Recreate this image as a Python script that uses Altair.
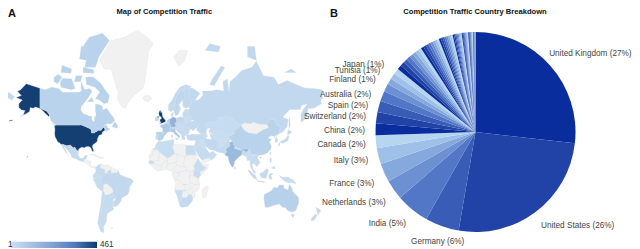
import altair as alt
import pandas as pd

# ---------- pie data ----------
pie_names = ["United Kingdom", "United States", "Germany", "India", "Netherlands", "France", "Italy", "Canada",
             "China", "Switzerland", "Spain", "Australia", "Finland", "Tunisia", "Japan", "Next"]
pie_share = [26.8, 25.9, 5.5, 5.4, 3.2, 3.0, 2.6, 2.1, 1.9, 1.8, 1.8, 1.7, 1.25, 1.0, 1.0, 0.9]
pie_rest = [0.72, 0.7, 0.68, 0.64, 0.6, 0.58, 0.55, 0.5,
            0.46, 0.44, 0.42, 0.4, 0.39, 0.38, 0.36, 0.35,
            0.32, 0.31, 0.3, 0.29, 0.28, 0.27, 0.26, 0.25,
            0.22, 0.21, 0.2, 0.19, 0.18, 0.17, 0.16, 0.15,
            0.15, 0.14, 0.14, 0.13, 0.13, 0.12, 0.12, 0.11,
            0.12, 0.11, 0.1, 0.1, 0.09, 0.09, 0.08, 0.08,
            0.07, 0.07, 0.06, 0.06, 0.05, 0.05, 0.03, 0.02]
pie_palette = ["#0a2d9e", "#2143a8", "#395cb7", "#5177c6", "#6c90d2", "#86a9dd", "#9fc0e8", "#b5d5f0"]

# label text: name, percent shown, placement (align, x, y)
label_pct = {"United Kingdom": 27, "United States": 26, "Germany": 6, "India": 5, "Netherlands": 3, "France": 3,
             "Italy": 3, "Canada": 2, "China": 2, "Switzerland": 2, "Spain": 2, "Australia": 2, "Finland": 1,
             "Tunisia": 1, "Japan": 1}
label_place = {"United Kingdom": ("right", 623.5, 46), "United States": ("left", 533, 218), "Germany": ("right", 456.3, 233.5),
               "India": ("right", 398, 215.5), "Netherlands": ("right", 377.7, 195), "France": ("right", 366.3, 176),
               "Italy": ("right", 360.3, 153), "Canada": ("right", 357.7, 137), "China": ("right", 357, 122.5),
               "Switzerland": ("right", 358, 109), "Spain": ("right", 360.3, 97.5), "Australia": ("right", 363.3, 87),
               "Finland": ("right", 367.7, 72), "Tunisia": ("right", 372.3, 63), "Japan": ("right", 376.3, 57)}

# ---------- map data: traffic per country ----------
traffic = {"United States": 444, "United Kingdom": 461, "Germany": 102, "India": 85, "Netherlands": 51, "France": 51,
           "Italy": 51, "Canada": 30, "China": 30, "Switzerland": 30, "Spain": 34, "Australia": 34, "Finland": 17,
           "Tunisia": 17, "Japan": 17, "Russia": 18, "Brazil": 18, "Mexico": 14, "Sweden": 20, "Norway": 16,
           "Poland": 18, "Ireland": 18, "Belgium": 22, "Austria": 18, "Portugal": 14, "Denmark": 14, "Greece": 12,
           "Turkey": 14, "Iran": 18, "Pakistan": 14, "Saudi Arabia": 12, "Egypt": 12, "Algeria": 10, "Morocco": 10,
           "Kenya": 10, "Ethiopia": 8, "South Africa": 14, "Namibia": 8, "Senegal": 8, "Argentina": 12, "Chile": 12,
           "Colombia": 12, "Peru": 10, "Ecuador": 10, "Uruguay": 8, "Paraguay": 8, "New Zealand": 16, "Indonesia": 14,
           "Malaysia": 14, "Thailand": 10, "Vietnam": 12, "Philippines": 10, "South Korea": 12, "Taiwan": 10,
           "Kazakhstan": 10, "Ukraine": 14, "Romania": 14, "Hungary": 14, "Czechia": 16, "Belarus": 8, "Baltics": 12,
           "Balkans": 12, "Bulgaria": 10, "Iraq": 6, "Levant": 10, "Oman": 6, "Central Asia": 8, "Caucasus": 8,
           "Afghanistan": 6, "Nepal": 6, "Bangladesh": 10, "Sri Lanka": 8, "Myanmar": 6, "Papua": 6}

shapes = {
 "United States": [
  [[-124.7,48.4],[-123,49],[-115,49],[-105,49],[-95.2,49],[-95,49.4],[-89.5,48],[-84.5,46.5],[-82.5,45.3],[-82.5,42.9],[-79,42.8],[-79,43.3],[-76.5,44],[-75,45],[-71.5,45],[-69.2,47.4],[-67.8,47],[-67,45],[-70,43.7],[-70.5,41.7],[-74,40.6],[-75.5,38],[-76,35.2],[-78,33.9],[-81,32],[-81.4,30],[-80,26.8],[-80.5,25.2],[-81.8,26],[-82.8,28.5],[-84.2,30],[-86,30.4],[-89,30.3],[-90,29.2],[-93.8,29.7],[-97,28],[-97.2,26],[-99.2,26.5],[-101.4,29.8],[-103,29],[-104.8,30.6],[-106.5,31.8],[-108.2,31.4],[-111,31.3],[-114.8,32.5],[-117.1,32.5],[-118.5,34],[-120.6,34.6],[-122,36.8],[-123.8,39.5],[-124.3,42],[-124,46.2]],
  [[-141,69.6],[-148,70.4],[-156.5,71.3],[-163,69],[-166.5,68.3],[-162,66.5],[-168,65.6],[-161,64.4],[-165,62.5],[-165,60.5],[-162,59],[-158,58.7],[-160,56],[-164,54.7],[-158,56.5],[-153,58],[-152,60.5],[-149,60],[-146,60.7],[-140,59.7],[-137,58.2],[-135,57],[-131,55],[-130,56],[-133.5,58.5],[-137,59.2],[-141,60.3],[-141,65]],
  [[-156,20.2],[-155,19.2],[-155,20],[-155.8,20.4]],
  [[-176,51.8],[-172,52.3],[-172,52.8],[-176,52.4]]],
 "Canada": [
  [[-141,69.6],[-135,69],[-128,70],[-120,69.5],[-115,68],[-108,68],[-96,68],[-94,68.5],[-94.5,72],[-90,69],[-85,69.5],[-81.5,68.5],[-87,65],[-94,61],[-94.7,59],[-92,57],[-85,55.3],[-82,55],[-82,53],[-80,51.3],[-79,52],[-79,54.5],[-77,56],[-78,58.5],[-78,62.4],[-73,62],[-70,61],[-69.5,59],[-65,60],[-62,57.5],[-57,54],[-56,52],[-60,50],[-65,50],[-70,47.5],[-65,49],[-64.5,47],[-61,46],[-66,44],[-67,45],[-67.8,47],[-69.2,47.4],[-71.5,45],[-75,45],[-76.5,44],[-79,43.3],[-79,42.8],[-82.5,42.9],[-82.5,45.3],[-84.5,46.5],[-89.5,48],[-95,49.4],[-95.2,49],[-105,49],[-115,49],[-123,49],[-125,50],[-128,52],[-130,55],[-130,56],[-133.5,58.5],[-137,59.2],[-141,60.3],[-141,65]],
  [[-62,66.5],[-64,63],[-68,62.5],[-74,64.5],[-78,65],[-73,68],[-78,70],[-88,71],[-89,73.5],[-81,73.7],[-72,71.5],[-67,69]],
  [[-117,70],[-105,69],[-101,69.5],[-105,73],[-115,73.2],[-118,72]],
  [[-125,72],[-121,71.3],[-116,73.5],[-120,74.5],[-125,73.5]],
  [[-90,76.5],[-78,76.5],[-74,79],[-62,82],[-70,83.1],[-85,82.5],[-92,81],[-88,78.5]],
  [[-92,75],[-80,74.7],[-80,75.8],[-92,76.5]],
  [[-117,75],[-106,74.8],[-105,76],[-116,77]],
  [[-96,78.5],[-88,78.2],[-87,80.2],[-94,81.2]],
  [[-102,72],[-95,72],[-93,74],[-100,74]],
  [[-87,63.5],[-80,63.5],[-82,65.7]],
  [[-59,47.7],[-53,46.7],[-53,49],[-56,51.5]],
  [[-128.3,50.5],[-123.5,48.4],[-125,48.8]]],
 "Mexico": [[[-117.1,32.5],[-114.8,32.5],[-111,31.3],[-108.2,31.4],[-106.5,31.8],[-104.8,30.6],[-103,29],[-101.4,29.8],[-99.2,26.5],[-97.2,26],[-97.8,22.5],[-95.8,18.8],[-94,18.2],[-91,18.8],[-90.5,21],[-87,21.5],[-88,18.5],[-90,17.8],[-92,14.6],[-96,15.8],[-105,19.5],[-106,23],[-109.5,26.5],[-112.7,30],[-114.7,31.6],[-112,27],[-109.5,23],[-112,24.8],[-115,29.5]]],
 "Colombia": [[[-77.3,8.6],[-75,11],[-72,12.2],[-72.5,7.5],[-67.5,6],[-67,1.5],[-70,-0.5],[-70,-4.2],[-75,0],[-78.8,1.4],[-77.3,4],[-78,7.5]]],
 "Ecuador": [[[-78.8,1.4],[-75,0],[-75.5,-2],[-78.5,-4.8],[-81,-2.5],[-80,0.5]]],
 "Peru": [[[-81,-4.5],[-78.5,-4.8],[-75.5,-2],[-75,0],[-70,-4.2],[-73,-9],[-69,-11],[-69,-16],[-70.4,-18.4],[-76,-14],[-79,-8]]],
 "Brazil": [[[-60,1.5],[-54,2.3],[-51.7,4],[-50,0],[-44,-2.5],[-37,-4.8],[-34.8,-7.5],[-39,-13.5],[-39.5,-18],[-41,-22],[-48,-25.5],[-49,-29],[-53.4,-33.7],[-57.5,-30],[-54.5,-25.6],[-55,-24],[-58,-22],[-58,-20],[-58,-16.3],[-60.5,-13.7],[-65.3,-10],[-69,-11],[-73,-9],[-70,-4.2],[-70,-0.5],[-67,1.5],[-64,1.5],[-64,4],[-60.7,5.2]]],
 "Chile": [[[-70.4,-18.4],[-69,-18],[-67,-23],[-70,-33],[-71.5,-40],[-72,-50],[-68.5,-52.5],[-68.5,-55],[-72,-54],[-75.5,-48],[-73.5,-40],[-71.5,-30]]],
 "Argentina": [[[-67,-23],[-62.5,-22],[-58,-27],[-57.5,-30],[-58.5,-34],[-57,-36.5],[-62,-39],[-65,-41],[-65.5,-47],[-69,-51],[-68.5,-52.5],[-72,-50],[-71.5,-40],[-70,-33]]],
 "Paraguay": [[[-62.5,-22],[-58,-20],[-58,-22],[-55,-24],[-54.5,-25.6],[-58,-27]]],
 "Uruguay": [[[-58.5,-34],[-57.5,-30],[-53.4,-33.7]]],
 "United Kingdom": [
  [[-5.5,50],[-1,50.7],[1.4,51.2],[1.7,52.7],[0,53.5],[-1.5,55],[-2,56],[-2,57.6],[-4,57.7],[-3,58.6],[-5,58.6],[-6,57],[-5,55],[-3.2,54.9],[-3,53.4],[-4.5,53.2],[-4.5,52],[-5.2,51.7],[-3,51.3]],
  [[-8,54.4],[-5.6,54.5],[-6.2,55.2],[-7.5,55.2]]],
 "Ireland": [[[-10,52],[-6.3,52.2],[-6,53.9],[-8,54.4],[-7.5,55.2],[-10,54.2]]],
 "France": [[[-1.7,43.4],[3,42.5],[4,43.5],[7.5,43.8],[7,45.9],[6,46.3],[7.5,47.6],[8.2,49],[6,49.5],[4,50],[2.5,51],[0,49.5],[-1.5,49.6],[-4.7,48.5],[-1.2,46]]],
 "Spain": [[[-9.2,43.2],[-7,43.7],[-1.7,43.4],[3,42.5],[0,40],[-0.5,38.5],[-2,36.8],[-5.5,36],[-7.3,37.2],[-7,39.5],[-6.5,42],[-8.8,42]]],
 "Portugal": [[[-8.8,42],[-6.5,42],[-7,39.5],[-7.3,37.2],[-9,37],[-9.5,38.8]]],
 "Germany": [[[6,51],[7,53.5],[9,54],[9.5,54.8],[14,54],[14.7,51],[12.2,50.3],[13.7,48.7],[13,47.5],[7.5,47.6],[8.2,49],[6,49.5]]],
 "Netherlands": [[[3.4,51.4],[4.7,53],[7,53.5],[6,51]]],
 "Belgium": [[[2.5,51],[3.4,51.4],[6,51],[6,49.5],[4,50]]],
 "Switzerland": [[[6,46.3],[7,45.9],[10.4,46.5],[9.5,47.5],[7.5,47.6]]],
 "Italy": [
  [[7,45.9],[7.5,43.8],[10.3,43.5],[12.5,41.5],[15.5,40],[16,38],[17,39],[18.4,40],[16,41.7],[13.5,43.7],[12.3,45.3],[13.7,45.7],[12.2,47],[10.4,46.5]],
  [[12.5,38],[15.5,38.2],[15,36.7]],[[8.2,41],[9.7,41],[9.5,39],[8.5,39]]],
 "Austria": [[[9.5,47.5],[10.4,46.5],[12.2,47],[13.7,46.5],[16.5,46.9],[17,48],[15,49],[13.7,48.7],[13,47.5]]],
 "Poland": [[[14,54],[18.5,54.8],[23,54.3],[24,51],[22.7,49.2],[19,49.4],[14.7,51]]],
 "Czechia": [[[12.2,50.3],[14.7,51],[19,49.4],[22.7,49.2],[22,48.4],[17,48],[15,49],[13.7,48.7]]],
 "Denmark": [[[8.2,55],[8.5,57.1],[10.6,57.7],[10.5,55.5],[9.5,54.8]]],
 "Norway": [[[5,59],[8,58],[11,59],[12,61],[12.5,64],[15,66.5],[18.5,69],[25,69],[29,69.8],[31,70.3],[25,71],[18,70],[13,67.5],[9,64],[5,62]]],
 "Sweden": [[[11,59],[13,55.5],[16,56.2],[18.8,59.8],[17,62],[21,64.5],[24,66],[23.5,68],[20.5,69],[18.5,69],[15,66.5],[12.5,64],[12,61]]],
 "Finland": [[[21.5,61],[25,60],[28,60.6],[31.5,62.9],[29,66],[29,69.8],[25,69],[20.5,69],[23.5,68],[24,66],[21,64.5]]],
 "Baltics": [[[21,55.3],[21,57],[24,59.4],[28,59.4],[27.7,57.5],[28,56],[26,54],[23,54.3]]],
 "Belarus": [[[23,54.3],[26,54],[28,56],[31,55],[32,53],[30.5,51.5],[24,51]]],
 "Ukraine": [[[24,51],[30.5,51.5],[34,52.3],[40,49.7],[38,47],[35,46],[33.5,44.5],[30.5,46],[29,45.3],[26,48],[22,48.4],[22.7,49.2]]],
 "Romania": [[[22,48.4],[26,48],[29,45.3],[28.6,43.8],[23,43.8],[20.5,46]]],
 "Hungary": [[[16.5,46.9],[17,48],[22,48.4],[20.5,46],[18,45.9]]],
 "Balkans": [[[13.7,45.7],[13.7,46.5],[16.5,46.9],[18,45.9],[20.5,46],[23,43.8],[22.5,41.5],[19.5,41.5],[16,43.5]]],
 "Bulgaria": [[[23,43.8],[28.6,43.8],[28,42],[26,41.3],[22.5,41.5]]],
 "Greece": [[[19.5,41.5],[22.5,41.5],[26,41],[23,40],[24,38],[23,36.5],[21,37],[20,39.5]]],
 "Turkey": [[[26,39],[27,37],[30,36.3],[36,36.5],[42,37.2],[44.5,37.5],[44.5,39.7],[43,41.2],[41.5,41.5],[36,41.5],[32,42],[29,41],[26,41]]],
 "Russia": [
  [[28,60.6],[31.5,62.9],[29,66],[29,69.8],[33,69.5],[41,67.5],[38,66],[35,64],[40,64.7],[44,66.5],[44,68.5],[54,68.5],[60,69],[68,68.5],[67,72],[72,73],[74,68],[75,72],[81,73.5],[88,75.5],[100,76.5],[105,78],[113,74],[125,73.5],[130,71],[140,72.5],[150,71],[160,69.7],[170,69.5],[180,69],[180,65],[178,64.5],[179,62.5],[170,60],[164,60],[163,58],[162,55],[158,52],[156,51],[155.5,56],[158,59],[163,62.5],[156,61.5],[155,59.3],[143,59.3],[135,54.7],[141,53],[140,48],[135,43.5],[130.7,42.3],[131,45],[135,48.4],[131,47.7],[127.5,50],[126,53],[120,53],[117,49.7],[113,49.7],[107,50],[102,51.3],[98,50],[92,50.8],[87,49.2],[83,51],[77,54],[71,55],[61,54],[59,51],[50,51.5],[47,49],[49,46.3],[47.5,43],[48.5,41.8],[46,42],[40,43.5],[37,45],[38,47],[40,49.7],[34,52.3],[32,53],[31,55],[28,56],[27.7,57.5],[28,59.4],[30,60]],
  [[-180,65],[-180,69],[-175,67.5],[-170,66],[-173,64.3],[-178,65.5]],
  [[52,71],[57,70.6],[69,76.5],[65,76.8],[55,73]],
  [[47,80.3],[62,80],[64,81],[52,81.5]],
  [[95,79],[105,78.2],[103,81],[95,81]],
  [[137,75],[150,75],[145,76]],
  [[142,46],[143.5,49],[143,54],[142,54],[142,49]]],
 "Kazakhstan": [[[47,49],[50,51.5],[59,51],[61,54],[71,55],[77,54],[83,51],[87,49.2],[85,47],[80,45],[80,42.5],[70,41],[66,43],[61,44],[56,45],[56,41.3],[51,44.5],[53,47],[49,46.3]]],
 "China": [
  [[73.5,39.5],[80,42.5],[80,45],[85,47],[87,49.2],[91,45],[96,42.8],[105,41.8],[112,45],[119,47],[117,49.7],[120,53],[126,53],[127.5,50],[131,47.7],[135,48.4],[131,45],[130.7,42.3],[125,40],[122,40.5],[118,39],[120.5,37.5],[122.5,37],[119.5,35],[122,31],[121.5,28],[118,24.5],[113,22],[108,21.6],[106,23],[102,22.5],[99,22],[98,25],[98,28],[92,28],[88,27.5],[81,30],[79,32.5],[78,35.5],[74.5,37]],
  [[108.7,19.3],[110.5,20],[111,19.5],[109.5,18.2]]],
 "Taiwan": [[[120,23],[121,22],[122,25],[121,25.2]]],
 "South Korea": [[[126.5,37.8],[128.3,38.6],[129.5,36],[128.5,34.8],[126.3,34.5]]],
 "Japan": [
  [[131,34],[133,35.6],[137,37],[139.8,38.8],[141,41.3],[142,39.5],[140.8,36],[137,34.6],[135,33.6],[132.5,34.3]],
  [[140,41.6],[141.5,45.4],[145.3,43.5],[143,42]],
  [[130,33.5],[131.8,33.5],[131,31],[130,31.5]]],
 "India": [[[74,34.5],[78,35.5],[79,32.5],[81,30],[80,28.8],[88,26.5],[88,27.5],[92,28],[97,28],[94,24],[92.5,24],[92,26],[89,26],[88.5,22],[87,21],[85,19.5],[80.2,15],[80,12],[78,8.2],[76,10.5],[73.5,16],[72.8,20.5],[70,21],[69,22.8],[71,25],[70,28],[74.5,31]]],
 "Pakistan": [[[61,25],[67,24],[69,22.8],[71,25],[70,28],[74.5,31],[74,34.5],[74.5,37],[71.5,36.5],[69.5,33],[66.5,30],[61,29.5],[63,27]]],
 "Afghanistan": [[[61,29.5],[66.5,30],[69.5,33],[71.5,36.5],[74.5,37],[70,38],[65,37.3],[61,35.5]]],
 "Iran": [[[44.5,39.7],[44.5,37.5],[46,33.5],[48.5,30],[52,27.5],[57,26.8],[61,25],[63,27],[61,29.5],[61,35.5],[56,38],[54,37],[49,37.6]]],
 "Iraq": [[[42,37.2],[44.5,37.5],[46,33.5],[48.5,30],[46.5,29],[44,29.2],[39,32.2],[41,34.5]]],
 "Levant": [[[36,36.5],[42,37.2],[41,34.5],[39,32.2],[37,29.5],[35,29.5],[34.5,31.5],[35.8,35]]],
 "Saudi Arabia": [[[34.8,28],[35,29.5],[37,29.5],[39,32.2],[44,29.2],[46.5,29],[48.5,28],[50,26],[51.5,24],[55,22.5],[52,19],[48,18],[43,16.5],[39,21],[37,25]]],
 "Oman": [[[51.5,24],[56.3,26],[56.5,24.5],[59.8,22.5],[57.5,19],[55,17],[53,16.5],[52,19],[55,22.5]]],
 "Central Asia": [[[51,44.5],[53,42],[56,41.3],[56,45],[61,44],[66,43],[70,41],[80,42.5],[73.5,39.5],[74.5,37],[70,38],[65,37.3],[61,35.5],[56,38],[54,37]]],
 "Caucasus": [[[40,43.5],[46,42],[48.5,41.8],[49.5,40],[48,38.5],[44.5,39.7],[43,41.2],[41.5,41.5]]],
 "Nepal": [[[80,28.8],[81,30],[88,27.5],[88,26.5]]],
 "Bangladesh": [[[88.5,22],[89,26],[92,26],[92.5,24],[92,21]]],
 "Myanmar": [[[92,21],[92.5,24],[94,24],[97,28],[98,28],[98,25],[99,22],[101,21],[98,17],[99,11],[98,10],[97.5,16],[94.3,16],[94,19]]],
 "Thailand": [[[101,21],[100,20],[104,18],[105.5,15],[102.5,12],[101,13],[100,11],[101,7],[100,6.5],[98,8.5],[99,11],[98,17]]],
 "Vietnam": [[[102,22.5],[106,23],[108,21.6],[106,19],[109,14],[107,10.5],[105,8.8],[105,10.5],[102.5,12],[105.5,15],[104,18],[100,20],[101,21]]],
 "Malaysia": [[[101,7],[103.5,4],[104,1.4],[101,3],[100,6.5]]],
 "Indonesia": [
  [[109,1.5],[113,3.2],[116.5,7],[119,5],[117.5,1],[116,-4],[111,-3.5],[109,0]],
  [[95.3,5.5],[98,4],[104,-1],[106,-5.8],[102,-4],[97,2]],
  [[105.5,-6.5],[114.5,-7.8],[114.5,-8.7],[106,-7.6]],
  [[120,1],[125,1.5],[121.5,-1],[123,-5],[120,-5.5],[119,-2]]],
 "Papua": [[[131,-1],[135,-3],[141,-2.6],[147,-6],[150.5,-10.5],[146,-9],[141,-9],[138,-8],[133,-4]]],
 "Philippines": [[[120.3,18.5],[122.2,18.3],[122,14],[120.5,14]],[[122,8],[126,9.7],[126,6.5],[123,7]]],
 "Sri Lanka": [[[80,9.5],[82,7.5],[80.5,6],[79.8,8]]],
 "Australia": [
  [[114,-22],[113.5,-26],[115,-34.5],[118,-35],[124,-33],[131,-31.5],[135,-34.8],[138,-35],[141,-38],[146.5,-39],[150,-37.5],[153.2,-30],[153,-25],[146.5,-19],[145,-14.5],[142.5,-10.8],[141,-17],[136,-15],[136.5,-12],[131,-11.5],[129,-15],[125,-14],[122,-18]],
  [[144.7,-41],[148.3,-41],[147,-43.5],[146,-43.5]]],
 "New Zealand": [[[172.7,-34.5],[178.5,-37.7],[175,-41.6],[174,-39]],[[172.5,-40.6],[174.3,-41.8],[170.5,-46],[167,-46.2],[168,-44]]],
 "Morocco": [[[-13,27.7],[-8.7,27.7],[-8.7,29],[-2,32],[-2,35],[-6,35.8],[-9.5,32],[-9.8,29.5]]],
 "Algeria": [[[-8.7,27.7],[-5,25],[3.3,19],[6,19.5],[12,23.5],[9.5,30],[8.5,36.9],[-2,35],[-2,32],[-8.7,29]]],
 "Tunisia": [[[8.5,36.9],[11,37],[11,33],[9.5,30]]],
 "Egypt": [[[25,31.8],[34.2,31.3],[35,29.5],[34.8,28],[36.8,22],[25,22]]],
 "Senegal": [[[-17.5,14.7],[-16.5,16],[-12,15],[-12,12.5],[-16.7,12.4]]],
 "Ethiopia": [[[38.5,18],[43,12],[43,11],[48,8],[44,4.5],[41,4],[35,5],[34,10],[36.5,14]]],
 "Kenya": [[[35,5],[41,4],[41,-1.5],[39.5,-4.6],[34,-1],[34,4]]],
 "Namibia": [[[12,-17.3],[24,-17.5],[25,-17.7],[21,-18.3],[20,-28.5],[16.5,-28.6],[14.5,-22.5]]],
 "South Africa": [[[16.5,-28.6],[20,-28.5],[20,-25],[25.5,-25.7],[28,-22],[31,-22.5],[32.8,-26],[32,-29],[27,-34],[20,-34.8],[18,-33]]],
}

no_data_shapes = {
 "Greenland": [[[-73,78.2],[-68,76],[-60,76],[-55,71],[-52,68],[-53,65],[-49,61.5],[-44,60],[-41,63],[-33,67],[-24,69.5],[-22,72],[-20,76],[-18,80],[-12,81.5],[-30,83.5],[-45,82.5],[-60,82],[-68,80]]],
 "Iceland": [[[-24,65.5],[-22,64],[-18,63.4],[-14,65],[-16,66.4],[-22,66.4]]],
 "Svalbard": [[[11,79],[17,76.7],[23,78],[27,80.2],[18,80.3]]],
 "Mongolia": [[[87,49.2],[92,50.8],[98,50],[102,51.3],[107,50],[113,49.7],[117,49.7],[119,47],[112,45],[105,41.8],[96,42.8],[91,45]]],
 "North Korea": [[[125,40],[130.7,42.3],[129.7,41],[127.5,39.5],[128.3,38.6],[126.5,37.8],[125,38]]],
 "Yemen": [[[43,16.5],[48,18],[52,19],[53,16.5],[45,12.8],[43.4,12.8]]],
 "Central America": [[[-92,14.6],[-90,17.8],[-88,18.5],[-88,16],[-83.2,15],[-83.5,11],[-82.5,9.2],[-79.5,9.5],[-77.3,8.6],[-78,7.5],[-80.5,7.3],[-83,8.3],[-86,11],[-88,13]]],
 "Cuba": [[[-85,22],[-80,23.1],[-74.2,20.2],[-77.5,19.9],[-78,20.7],[-82,22.4]]],
 "Hispaniola": [[[-74.3,18.3],[-74,19.9],[-68.5,18.8],[-71,18]]],
 "Venezuela": [[[-72,12.2],[-68,10.7],[-62,10.7],[-60,8.5],[-60.7,5.2],[-64,4],[-64,1.5],[-67,1.5],[-67.5,6],[-72.5,7.5]]],
 "Guyana": [[[-60,8.5],[-52,5],[-51.7,4],[-54,2.3],[-60,1.5],[-60.7,5.2]]],
 "Bolivia": [[[-69,-11],[-65.3,-10],[-60.5,-13.7],[-58,-16.3],[-58,-20],[-62.5,-22],[-67,-23],[-69,-18],[-70.4,-18.4],[-69,-16]]],
 "Falklands": [[[-61,-51.5],[-58,-51.3],[-59,-52.3]]],
 "West Sahara": [[[-17,21],[-13,27.7],[-8.7,27.7],[-8.7,26],[-12,26],[-13,21]]],
 "Libya": [[[9.5,30],[11,33],[15,32.3],[20,32.5],[25,31.8],[25,20],[24,19.5],[15,23],[12,23.5]]],
 "Mauritania": [[[-17,21],[-13,21],[-12,26],[-8.7,26],[-5,25],[-6,15.5],[-12,15],[-16.5,16]]],
 "Mali": [[[-12,15],[-6,15.5],[-5,25],[3.3,19],[4,15],[1,15],[-3,11],[-8,10.5],[-12,12.5]]],
 "Guinea coast": [[[-16.7,12.4],[-12,12.5],[-8,10.5],[-3,11],[-2.8,5],[-7.5,4.4],[-11.5,7],[-13.5,9.5]]],
 "Ghana": [[[-3,11],[1,15],[4,15],[4,12],[2.8,6.3],[-2.8,5]]],
 "Niger": [[[4,15],[3.3,19],[6,19.5],[12,23.5],[15,23],[15.5,17],[13.5,13.5],[4,12]]],
 "Nigeria": [[[2.8,6.3],[4,12],[13.5,13.5],[14.5,11],[9,4.5],[5,4.3]]],
 "Chad": [[[15,23],[24,19.5],[22,12],[24,9],[19,9],[14.5,11],[13.5,13.5],[15.5,17]]],
 "Sudan": [[[25,22],[36.8,22],[38.5,18],[36.5,14],[34,10],[35,5],[30,3.5],[27,5],[24,9],[22,12],[24,19.5],[25,20]]],
 "Somalia": [[[43,11],[51,12],[49,6],[41,-1.5],[41,4],[44,4.5],[48,8]]],
 "Cameroon": [[[9,4.5],[14.5,11],[19,9],[24,9],[27,5],[18.5,3.5],[16,2],[9.7,2.3]]],
 "Gabon": [[[9.7,2.3],[16,2],[18.5,3.5],[17,-1],[12,-5],[9,-1]]],
 "DR Congo": [[[18.5,3.5],[27,5],[30,3.5],[29,-4],[30,-8.5],[28,-12],[22,-11],[16.5,-6],[12,-6],[12,-5],[17,-1]]],
 "Uganda": [[[30,3.5],[35,5],[34,4],[34,-1],[30,-1.5],[29,-4]]],
 "Tanzania": [[[30,-1.5],[34,-1],[39.5,-4.6],[40.5,-10.5],[34.5,-11.5],[30,-8.5],[29,-4]]],
 "Angola": [[[12,-6],[16.5,-6],[22,-11],[24,-11],[24,-17.5],[12,-17.3],[13.5,-10]]],
 "Zambia": [[[22,-11],[28,-12],[30,-8.5],[33.5,-11],[30,-15.5],[25,-17.7],[24,-17.5],[24,-11]]],
 "Mozambique": [[[34.5,-11.5],[40.5,-10.5],[40,-16],[35,-20],[35.5,-24],[32.8,-26],[31,-22.5],[33,-19],[30,-15.5],[33.5,-11]]],
 "Zimbabwe": [[[25,-17.7],[30,-15.5],[33,-19],[31,-22.5],[28,-22]]],
 "Botswana": [[[21,-18.3],[25,-17.7],[28,-22],[25.5,-25.7],[20,-25],[20,-22]]],
 "Madagascar": [[[44,-16],[49.3,-12],[50.3,-16],[47,-25],[44,-25],[43.5,-20]]],
}

map_light, map_mid, map_dark = "#cbe0f3", "#4f78bb", "#0d3b6e"
legend_low, legend_high = 1, 461


def ring_closed_cw(ring):
    """GeoJSON ring, closed and wound the way d3-geo reads as a small polygon."""
    pts = list(ring) + [ring[0]]
    area = sum(a[0] * b[1] - b[0] * a[1] for a, b in zip(pts, pts[1:]))
    return pts if area < 0 else pts[::-1]


def feature(name, polys, value=None):
    return {"type": "Feature", "properties": {"name": name, "traffic": value},
            "geometry": {"type": "MultiPolygon", "coordinates": [[ring_closed_cw(r)] for r in polys]}}


with_data = [feature(n, p, traffic[n]) for n, p in shapes.items()]
without_data = [feature(n, p) for n, p in no_data_shapes.items()]

projection = dict(type="mercator", scale=50.4, translate=[156, 166.7])
border = dict(stroke="#d3d9df", strokeWidth=0.3)

map_grey = alt.Chart(alt.Data(values=without_data)).mark_geoshape(fill="#f1f1f1", **border).project(**projection)
map_blue = alt.Chart(alt.Data(values=with_data)).mark_geoshape(**border).encode(
    color=alt.Color("properties.traffic:Q", legend=None,
                    scale=alt.Scale(domain=[1, 230, 461], range=[map_light, map_mid, map_dark]))
).project(**projection)

# ---------- pie ----------
all_share = pie_share + pie_rest
all_names = pie_names + [f"Other {i + 1}" for i in range(len(pie_rest))]
pie_df = pd.DataFrame({"name": all_names, "share": all_share, "rank": range(len(all_share))})
pie = alt.Chart(pie_df).mark_arc(radius=100).encode(
    x=alt.value(467.5), y=alt.value(124),
    theta=alt.Theta("share:Q", stack=True),
    order=alt.Order("rank:Q"),
    color=alt.Color("rank:O", legend=None, scale=alt.Scale(range=pie_palette)),
)

# ---------- text ----------
def text(s, x, y, align="center", size=8.2, bold=False, color="#444444"):
    return alt.Chart(pd.DataFrame({"t": [s]})).mark_text(
        align=align, baseline="middle", fontSize=size, font="Liberation Sans",
        fontWeight="bold" if bold else "normal", color=color
    ).encode(text="t:N", x=alt.value(x), y=alt.value(y))


labels = [text(f"{n} ({label_pct[n]}%)", label_place[n][1], label_place[n][2], align=label_place[n][0])
          for n in label_pct]
heads = [
    text("Map of Competition Traffic", 156.3, 4, size=7.6, bold=True, color="#111111"),
    text("Competition Traffic Country Breakdown", 467, 4, size=7.6, bold=True, color="#111111"),
    text("A", 0, 6, align="left", size=11, bold=True, color="#111111"),
    text("B", 322, 6, align="left", size=11, bold=True, color="#111111"),
]

# ---------- colour key ----------
key_bar = alt.Chart(pd.DataFrame({"k": [0]})).mark_rect(
    color=alt.Gradient(gradient="linear", x1=0, x2=1, y1=0, y2=0,
                       stops=[alt.GradientStop(offset=0, color=map_light),
                              alt.GradientStop(offset=0.5, color="#7f9fd3"),
                              alt.GradientStop(offset=0.75, color=map_mid),
                              alt.GradientStop(offset=1, color=map_dark)])
).encode(x=alt.value(3), x2=alt.value(89), y=alt.value(233.7), y2=alt.value(240))
key_text = [text(str(legend_low), 0, 236.5, align="left", color="#333333"),
            text(str(legend_high), 92, 236.5, align="left", color="#333333")]

chart = alt.layer(map_grey, map_blue, pie, key_bar, *key_text, *labels, *heads).resolve_scale(
    color="independent", theta="independent"
).properties(
    width=624, height=241, padding=0, autosize=alt.AutoSizeParams(type="none"), background="white"
).configure_view(stroke=None)

chart.save("out.html", embed_options={"renderer": "svg", "actions": False})
